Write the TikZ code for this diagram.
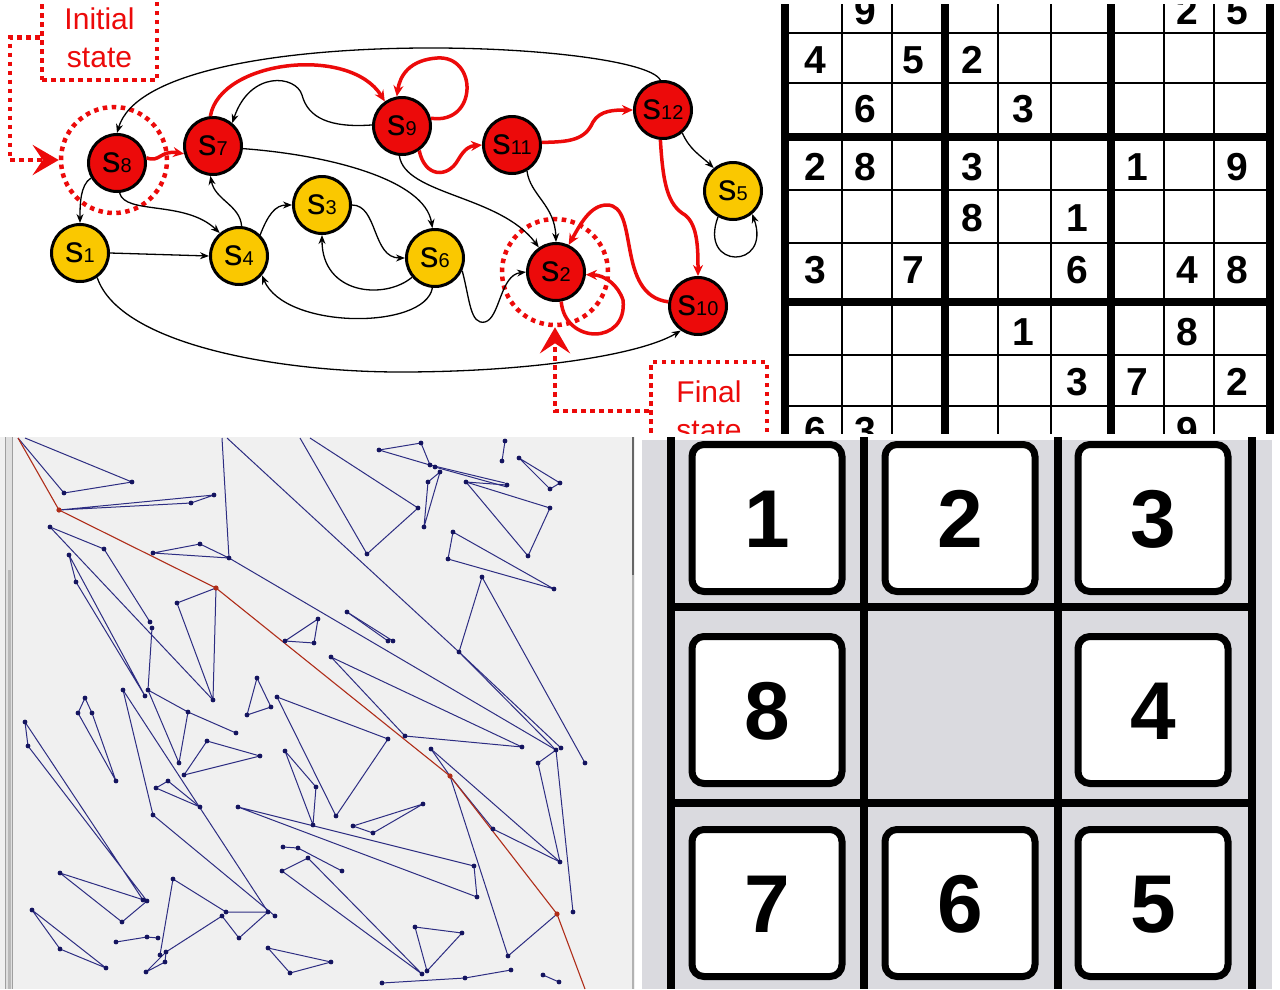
\documentclass[tikz,border=0pt]{standalone}
\usepackage{fontspec}
\setmainfont{Liberation Sans}
\usetikzlibrary{arrows.meta}
\definecolor{gred}{RGB}{236,10,10}
\definecolor{gyel}{RGB}{250,200,0}
\definecolor{navy}{RGB}{45,45,130}
\definecolor{dotc}{RGB}{20,20,95}
\definecolor{pathred}{RGB}{175,45,25}
\definecolor{panelgray}{RGB}{240,240,240}
\definecolor{puzgray}{RGB}{218,218,223}
\newcommand\stlab[1]{{\fontsize{37}{37}\selectfont s}{\fontsize{20}{20}\selectfont #1}}
\begin{document}
\begin{tikzpicture}[x=1pt,y=-1pt,
  stnode/.style={circle, draw=black, line width=3pt, minimum size=57pt, inner sep=0pt},
  rednode/.style={stnode, fill=gred},
  yelnode/.style={stnode, fill=gyel},
  blk/.style={draw=black, line width=1.3pt, -{Stealth[length=9pt,width=7pt]}},
  redarr/.style={draw=gred, line width=3.5pt, -{Stealth[length=11pt,width=10pt]}},
  ringdots/.style={circle, draw=gred, line width=4.5pt, dash pattern=on 4.5pt off 4.5pt, minimum size=106pt, inner sep=0pt},
  dotbox/.style={draw=gred, line width=4.5pt, dash pattern=on 4.5pt off 4.5pt, text=gred, align=center, font=\fontsize{30}{38}\selectfont, inner sep=0pt},
  dotlink/.style={draw=gred, line width=4.5pt, dash pattern=on 4.5pt off 4.5pt, -{Stealth[length=26pt,width=30pt,inset=10pt]}},
  sdk/.style={inner sep=0pt, font=\fontsize{39}{39}\selectfont\bfseries, text height=28pt, text depth=0pt},
  thinl/.style={line width=1.8pt},
  thickl/.style={line width=8.5pt},
  seg/.style={draw=navy, line width=1pt, line join=round},
  tile/.style={draw=black, line width=7pt, fill=white, rounded corners=12pt, minimum width=150pt, minimum height=147pt, inner sep=0pt, font=\fontsize{82}{82}\selectfont\bfseries, text height=58pt, text depth=0pt}
]
\useasboundingbox (0,0) rectangle (1280,989);
\fill[white] (0,0) rectangle (1280,989);

% ---------------- state graph ----------------
\begin{scope}
\clip (0,0) rectangle (777,433);
\node[rednode] (s8) at (117,163) {\stlab{8}};
\node[rednode] (s7) at (213,146) {\stlab{7}};
\node[rednode] (s9) at (402,126) {\stlab{9}};
\node[rednode] (s11) at (512,145) {\stlab{11}};
\node[rednode] (s12) at (663,110) {\stlab{12}};
\node[yelnode] (s5) at (733,191) {\stlab{5}};
\node[yelnode] (s1) at (80,253) {\stlab{1}};
\node[yelnode] (s4) at (239,256) {\stlab{4}};
\node[yelnode] (s3) at (322,205) {\stlab{3}};
\node[yelnode] (s6) at (435,258) {\stlab{6}};
\node[rednode] (s2) at (556,272) {\stlab{2}};
\node[rednode] (s10) at (698,306) {\stlab{10}};

\node[ringdots] (ring8) at (114,160) {};
\node[ringdots] (ring2) at (555,272) {};

\draw[blk] (s12.95) .. controls (640,40) and (150,20) .. (s8.90);
\draw[blk] (s9.178) .. controls (330,128) and (308,118) .. (302,95) .. controls (296,75) and (250,70) .. (s7.50);
\draw[blk] (s7.-5) .. controls (330,155) and (425,180) .. (s6.95);
\draw[blk] (s9.-95) .. controls (405,195) and (500,195) .. (s2.125);
\draw[blk] (s11.-60) .. controls (530,195) and (555,205) .. (s2.90);
\draw[blk] (s12.-50) .. controls (690,150) and (700,155) .. (s5.130);
\draw[blk] (s5.-120) .. controls (698,270) and (772,270) .. (s5.-50);
\draw[blk] (s8.-150) .. controls (80,185) and (80,205) .. (s1.90);
\draw[blk] (s8.-85) .. controls (125,215) and (185,200) .. (s4.130);
\draw[blk] (s4.85) .. controls (240,205) and (215,200) .. (s7.-95);
\draw[blk] (s1.0) -- (s4.180);
\draw[blk] (s4.45) .. controls (268,215) and (275,205) .. (s3.180);
\draw[blk] (s3.0) .. controls (378,205) and (372,258) .. (s6.180);
\draw[blk] (s6.-140) .. controls (385,300) and (322,295) .. (s3.-90);
\draw[blk] (s6.-95) .. controls (425,330) and (285,330) .. (s4.-40);
\draw[blk] (s6.-25) .. controls (470,300) and (470,325) .. (485,322) .. controls (500,318) and (500,275) .. (s2.180);
\draw[blk] (s1.-55) .. controls (120,345) and (280,372) .. (400,372) .. controls (530,372) and (640,355) .. (s10.-125);

\draw[redarr] (s8.10) .. controls (160,163) and (160,150) .. (s7.195);
\draw[redarr] (s7.95) .. controls (220,60) and (350,45) .. (s9.125);
\draw[redarr] (s9.15) .. controls (478,125) and (478,55) .. (437,58) .. controls (410,60) and (400,75) .. (s9.100);
\draw[redarr] (s9.-55) .. controls (425,178) and (448,178) .. (458,160) .. controls (465,148) and (470,146) .. (s11.180);
\draw[redarr] (s11.5) .. controls (570,142) and (585,140) .. (593,122) .. controls (600,110) and (615,110) .. (s12.180);
\draw[redarr] (s12.-95) .. controls (663,185) and (668,205) .. (685,215) .. controls (698,225) and (698,250) .. (s10.90);
\draw[redarr] (s10.172) .. controls (615,295) and (640,205) .. (607,205) .. controls (590,205) and (580,225) .. (s2.65);
\draw[redarr] (s2.-80) .. controls (565,345) and (628,345) .. (623,300) .. controls (618,285) and (605,275) .. (s2.-5);

\node[dotbox, minimum width=115pt, minimum height=85pt] (init) at (99.5,37.5) {Initial\\state};
\node[dotbox, minimum width=116pt, minimum height=98pt] (fin) at (709,411) {Final\\state};
\draw[dotlink] (init.west) -- ++(-30,0) |- (ring8.west);
\draw[dotlink] (fin.west) -| (ring2.south);
\end{scope}

% ---------------- sudoku ----------------
\begin{scope}
\clip (777,4) rectangle (1280,433);
\foreach \yy in {33,83,190,243,355,406} \draw[thinl] (784,\yy) -- (1270,\yy);
\foreach \xx in {842,892,998,1051,1164,1214} \draw[thinl] (\xx,0) -- (\xx,440);
\foreach \yy in {137,302} \draw[thickl] (784,\yy) -- (1270,\yy);
\foreach \xx in {785,945,1111,1270} \draw[thickl] (\xx,0) -- (\xx,440);
\foreach \xx/\yy/\d [count=\i] in {
  865/10/9, 1187/10/2, 1237/10/5,
  815/59.5/4, 913/59.5/5, 972/59.5/2,
  865/108/6, 1023/108/3,
  815/166/2, 865/166/8, 972/166/3, 1137/166/1, 1237/166/9,
  972/217/8, 1077/217/1,
  815/269/3, 913/269/7, 1077/269/6, 1187/269/4, 1237/269/8,
  1023/331/1, 1187/331/8,
  1077/381/3, 1137/381/7, 1237/381/2,
  815/430/6, 865/430/3, 1187/430/9}
  \node[sdk] (sd\i) at (\xx,\yy) {\d};
\end{scope}

% ---------------- line segments panel ----------------
\begin{scope}
\clip (0,437) rectangle (635,989);
\fill[panelgray] (0,437) rectangle (635,989);
\fill[gray!25] (5,437) rectangle (13,989);
\fill[gray!55] (8,570) rectangle (11,989);
\draw[gray!75, line width=1.2pt] (5.5,437) -- (5.5,989);
\draw[gray!75, line width=1.2pt] (12.5,437) -- (12.5,989);
\draw[gray!80!black, line width=2.5pt] (633,437) -- (633,575);
\draw[gray!60, line width=1.5pt] (633,575) -- (633,989);

\draw[seg] (18,438)--(64,493)--(132,482)--(25,438);
\draw[seg] (59,510)--(214,495)--(191,503)--cycle;
\draw[seg] (222,438)--(229,558);
\draw[seg] (153,553)--(200,544)--(229,558)--cycle;
\draw[seg] (229,558)--(556,750);
\draw[seg] (216,588)--(177,603)--(213,700)--cycle;
\draw[seg] (50,527)--(104,549)--(150,622);
\draw[seg] (50,527)--(213,700);
\draw[seg] (152,628)--(148,690)--(188,712)--(236,733);
\draw[seg] (148,690)--(179,763)--(188,712);
\draw[seg] (69,555)--(76,582)--(145,696)--cycle;
\draw[seg] (227,438)--(459,652);
\draw[seg] (300,438)--(367,554)--(418,508)--(310,438);
\draw[seg] (379,450)--(421,443)--(430,465)--cycle;
\draw[seg] (430,465)--(505,483);
\draw[seg] (435,467)--(507,487);
\draw[seg] (428,482)--(424,527)--(440,472)--cycle;
\draw[seg] (466,482)--(507,485);
\draw[seg] (466,482)--(550,508)--(528,556)--cycle;
\draw[seg] (505,441)--(502,461);
\draw[seg] (519,458)--(560,483)--(550,489)--cycle;
\draw[seg] (453,532)--(448,559)--(554,589)--cycle;
\draw[seg] (347,612)--(393,641);
\draw[seg] (347,612)--(388,641);
\draw[seg] (285,641)--(318,619)--(314,643)--cycle;
\draw[seg] (459,652)--(482,577)--(585,763);
\draw[seg] (459,652)--(556,750);
\draw[seg] (459,652)--(561,748);
\draw[seg] (331,657)--(405,736)--(522,747)--cycle;
\draw[seg] (257,678)--(271,707)--(247,715)--cycle;
\draw[seg] (277,697)--(388,739)--(336,816)--cycle;
\draw[seg] (85,698)--(78,713)--(116,781)--(92,713)--cycle;
\draw[seg] (123,690)--(153,815)--(275,916);
\draw[seg] (123,690)--(268,912);
\draw[seg] (25,722)--(28,746)--(147,901)--(143,900)--cycle;
\draw[seg] (207,741)--(260,756)--(184,775)--cycle;
\draw[seg] (168,781)--(156,788)--(200,807)--cycle;
\draw[seg] (238,807)--(474,866)--(477,897)--cycle;
\draw[seg] (285,751)--(316,787)--(313,825)--cycle;
\draw[seg] (60,873)--(147,901)--(122,922)--cycle;
\draw[seg] (32,910)--(60,949)--(106,968)--cycle;
\draw[seg] (116,942)--(147,937)--(158,938);
\draw[seg] (173,879)--(160,955);
\draw[seg] (173,879)--(226,912)--(268,912)--(239,938)--(222,916)--(166,952);
\draw[seg] (146,972)--(165,962)--(166,952)--cycle;
\draw[seg] (283,847)--(298,848)--(342,871);
\draw[seg] (282,871)--(308,858)--(422,974)--cycle;
\draw[seg] (268,948)--(290,973)--(331,962)--cycle;
\draw[seg] (353,826)--(423,804)--(373,833)--cycle;
\draw[seg] (415,927)--(462,933)--(427,971)--cycle;
\draw[seg] (511,970)--(465,978)--(382,983);
\draw[seg] (543,975)--(559,982);
\draw[seg] (431,749)--(450,776);
\draw[seg] (431,749)--(560,862);
\draw[seg] (450,776)--(493,829)--(560,862);
\draw[seg] (450,776)--(508,956)--(557,914);
\draw[seg] (538,763)--(556,750)--(573,912);
\draw[seg] (538,763)--(560,862);

\draw[pathred, line width=1.1pt] (18,438)--(59,510)--(216,588)--(450,776)--(557,914)--(585,989);

\foreach \p in {(64,493),(132,482),(214,495),(191,503),(229,558),(153,553),(200,544),(177,603),(213,700),(50,527),(104,549),(150,622),(152,628),(148,690),(188,712),(179,763),(236,733),(69,555),(76,582),(145,696),(459,652),(367,554),(418,508),(379,450),(421,443),(430,465),(435,467),(507,485),(428,482),(424,527),(440,472),(466,482),(550,508),(528,556),(505,441),(502,461),(519,458),(560,483),(550,489),(453,532),(448,559),(554,589),(347,612),(393,641),(388,641),(285,641),(318,619),(314,643),(482,577),(331,657),(405,736),(522,747),(257,678),(271,707),(247,715),(277,697),(388,739),(336,816),(85,698),(78,713),(92,713),(116,781),(123,690),(153,815),(275,916),(268,912),(25,722),(28,746),(147,901),(143,900),(207,741),(260,756),(184,775),(168,781),(156,788),(200,807),(238,807),(474,866),(477,897),(285,751),(316,787),(313,825),(60,873),(122,922),(32,910),(60,949),(106,968),(116,942),(147,937),(158,938),(173,879),(160,955),(226,912),(166,952),(222,916),(239,938),(146,972),(165,962),(283,847),(298,848),(308,858),(282,871),(342,871),(422,974),(268,948),(290,973),(331,962),(353,826),(423,804),(373,833),(415,927),(462,933),(427,971),(511,970),(465,978),(382,983),(543,975),(559,982),(431,749),(560,862),(493,829),(508,956),(538,763),(556,750),(561,748),(585,763),(573,912)}
  \fill[dotc] \p circle (2.4pt);
\foreach \p in {(59,510),(216,588),(450,776),(557,914)}
  \fill[pathred] \p circle (2.6pt);
\end{scope}

% ---------------- 8-puzzle ----------------
\fill[puzgray] (642,440) rectangle (1272,989);
\foreach \xx in {671,864,1058,1252} \draw[thickl] (\xx,437) -- (\xx,989);
\foreach \yy in {607,803} \draw[thickl] (671,\yy) -- (1252,\yy);
\node[tile] (t1) at (767,518) {1};
\node[tile] (t2) at (960,518) {2};
\node[tile] (t3) at (1153,518) {3};
\node[tile] (t8) at (767,710) {8};
\node[tile] (t4) at (1153,710) {4};
\node[tile] (t7) at (767,903) {7};
\node[tile] (t6) at (960,903) {6};
\node[tile] (t5) at (1153,903) {5};
\end{tikzpicture}
\end{document}
